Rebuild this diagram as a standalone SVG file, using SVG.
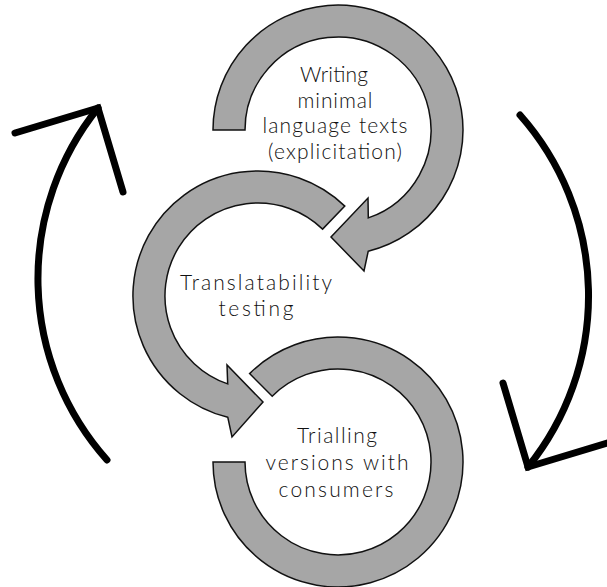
<svg xmlns="http://www.w3.org/2000/svg" width="607" height="587" viewBox="0 0 607 587">
  <style>
    .ring { fill: #a6a6a6; stroke: #111; stroke-width: 1.5; stroke-linejoin: miter; }
    .big { fill: none; stroke: #000; stroke-width: 7; stroke-linecap: round; stroke-linejoin: miter; }
    .lbl { font-family: Lato, "Open Sans", "Liberation Sans", sans-serif; font-size: 21px; font-weight: 300; fill: #111; text-anchor: middle; }
  </style>
  <rect width="607" height="587" fill="#fff"/>
  <g id="connectors">
    <path class="big" d="M 107,460 A 272.6 272.6 0 0 1 98,108"/>
    <path class="big" d="M 15,133 L 98,108 L 123,192"/>
    <path class="big" d="M 520,115 A 272.6 272.6 0 0 1 528,467"/>
    <path class="big" d="M 611,442 L 528,467 L 503,383"/>
  </g>
  <g id="node-writing">
    <path class="ring" d="M 213,130 A 125 125 0 1 1 368.2,251.3 L 364,271 L 331,237 L 368,198 L 368.3,217.9 A 93 93 0 1 0 245,130 Z"/>
    <text class="lbl" x="334" y="82" textLength="68" lengthAdjust="spacing">Writing</text>
    <text class="lbl" x="335" y="107.5" textLength="75" lengthAdjust="spacing">minimal</text>
    <text class="lbl" x="335" y="133" textLength="145" lengthAdjust="spacing">language texts</text>
    <text class="lbl" x="335" y="158.5" textLength="134" lengthAdjust="spacing">(explicitation)</text>
  </g>
  <g id="node-translatability">
    <path class="ring" d="M 344.8,206.1 A 125 125 0 1 0 227.8,417.3 L 232,437 L 263,402 L 227,365 L 227.7,383.9 A 93 93 0 1 1 322.6,229.1 Z"/>
    <text class="lbl" x="256" y="290" textLength="152" lengthAdjust="spacing">Translatability</text>
    <text class="lbl" x="256" y="316" textLength="75" lengthAdjust="spacing">testing</text>
  </g>
  <g id="node-trialling">
    <path class="ring" d="M 249.6,373.6 A 125 125 0 1 1 213,462 L 245,462 A 93 93 0 1 0 272.2,396.2 Z"/>
    <text class="lbl" x="337" y="443" textLength="80" lengthAdjust="spacing">Trialling</text>
    <text class="lbl" x="337" y="470" textLength="143" lengthAdjust="spacing">versions with</text>
    <text class="lbl" x="336" y="497" textLength="115" lengthAdjust="spacing">consumers</text>
  </g>
</svg>
